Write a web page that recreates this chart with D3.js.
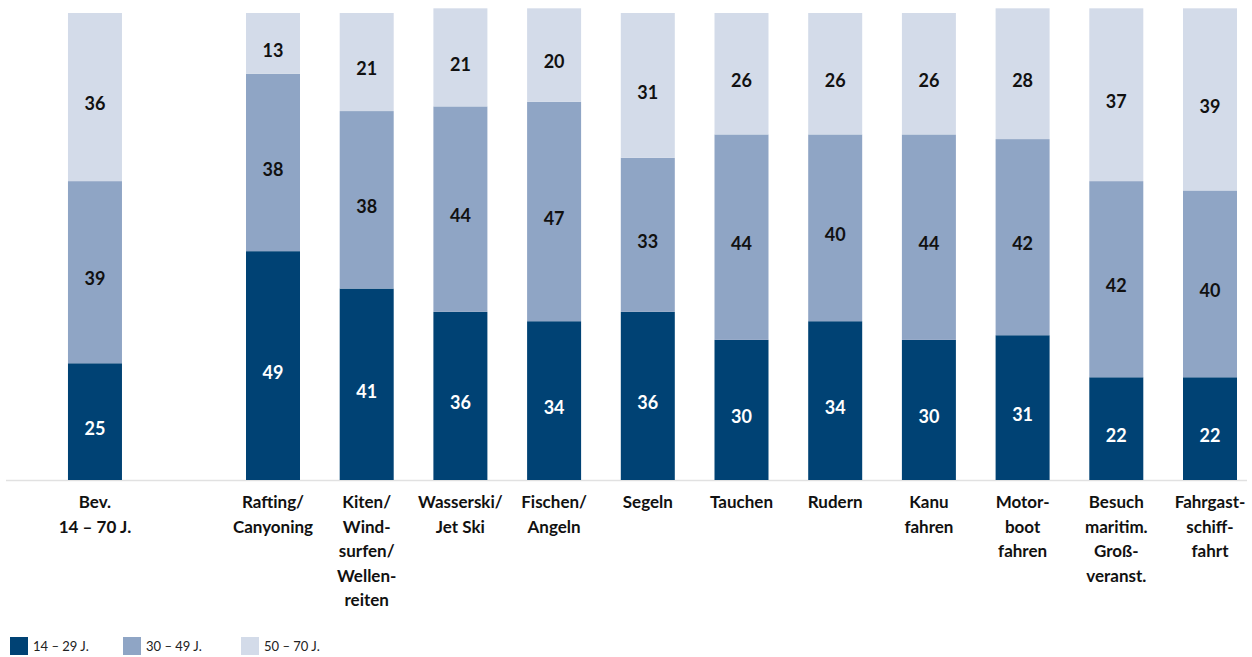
<!DOCTYPE html>
<html>
<head>
<meta charset="utf-8">
<script src="https://cdn.jsdelivr.net/npm/d3@7"></script>
<style>
  body { margin: 0; background: #fff; }
  svg { display: block; font-family: Lato, "Noto Sans", sans-serif; }
</style>
</head>
<body>
<main></main>
<script>
const categories = [
  ["Bev.", "14 – 70 J."],
  ["Rafting/", "Canyoning"],
  ["Kiten/", "Wind-", "surfen/", "Wellen-", "reiten"],
  ["Wasserski/", "Jet Ski"],
  ["Fischen/", "Angeln"],
  ["Segeln"],
  ["Tauchen"],
  ["Rudern"],
  ["Kanu", "fahren"],
  ["Motor-", "boot", "fahren"],
  ["Besuch", "maritim.", "Groß-", "veranst."],
  ["Fahrgast-", "schiff-", "fahrt"]
]
const young = [25, 49, 41, 36, 34, 36, 30, 34, 30, 31, 22, 22]
const middle = [39, 38, 38, 44, 47, 33, 44, 40, 44, 42, 42, 40]
const old = [36, 13, 21, 21, 20, 31, 26, 26, 26, 28, 37, 39]
const seriesNames = ["14 – 29 J.", "30 – 49 J.", "50 – 70 J."]

const width = 1252
const height = 657
const baseY = 480

const svg = d3.select("main")
  .append("svg")
  .attr("width", width)
  .attr("height", height)

const rows = categories.map((c, i) => ({ i, label: c, young: young[i], middle: middle[i], old: old[i] }))

const stack = d3.stack().keys(["young", "middle", "old"])(rows)

const color = d3.scaleOrdinal()
  .domain(["young", "middle", "old"])
  .range(["#004274", "#8fa5c5", "#d3dbe9"])

// Bev. stands apart, then a gap before the activities
const slot = i => i === 0 ? -1.9 : i - 1
const x = d3.scaleLinear().domain([0, 10]).range([246, 1183])
const barW = 54

const y = d3.scaleLinear().domain([0, 100]).range([baseY, 13])

svg.append("line")
  .attr("x1", 6).attr("x2", 1247)
  .attr("y1", baseY + 0.5).attr("y2", baseY + 0.5)
  .attr("stroke", "#e1e1e1")
  .attr("stroke-width", 1.5)

const layers = svg.selectAll("g.layer")
  .data(stack)
  .enter().append("g")
  .attr("class", "layer")
  .attr("fill", d => color(d.key))

layers.selectAll("rect")
  .data(d => d)
  .enter().append("rect")
  .attr("x", d => x(slot(d.data.i)))
  .attr("y", d => y(d[1]))
  .attr("width", barW)
  .attr("height", d => y(d[0]) - y(d[1]))

layers.selectAll("text")
  .data(d => d.map(v => ({ v, key: d.key })))
  .enter().append("text")
  .attr("x", d => x(slot(d.v.data.i)) + barW / 2)
  .attr("y", d => (y(d.v[0]) + y(d.v[1])) / 2 + 7)
  .attr("dy", "0.35em")
  .attr("text-anchor", "middle")
  .attr("font-size", "18px")
  .attr("font-weight", "bold")
  .attr("fill", d => d.key === "young" ? "#fff" : "#111")
  .text(d => d.v[1] - d.v[0])

const labels = svg.selectAll("text.cat")
  .data(rows)
  .enter().append("text")
  .attr("class", "cat")
  .attr("text-anchor", "middle")
  .attr("font-size", "17px")
  .attr("font-weight", "bold")
  .attr("fill", "#111")

labels.selectAll("tspan")
  .data(d => d.label.map(l => ({ l, i: d.i })))
  .enter().append("tspan")
  .attr("x", d => x(slot(d.i)) + barW / 2)
  .attr("y", (d, j) => 508 + j * 24.5)
  .text(d => d.l)

const legend = svg.append("g")
  .attr("transform", "translate(10, 637)")

const legX = [0, 113, 231]
seriesNames.forEach((name, k) => {
  let g = legend.append("g").attr("transform", `translate(${legX[k]}, 0)`)
  g.append("rect")
    .attr("width", 18).attr("height", 18)
    .attr("fill", color.range()[k])
  g.append("text")
    .attr("x", 23).attr("y", 14)
    .attr("font-size", "13px")
    .attr("fill", "#222")
    .text(name)
})
</script>
</body>
</html>
